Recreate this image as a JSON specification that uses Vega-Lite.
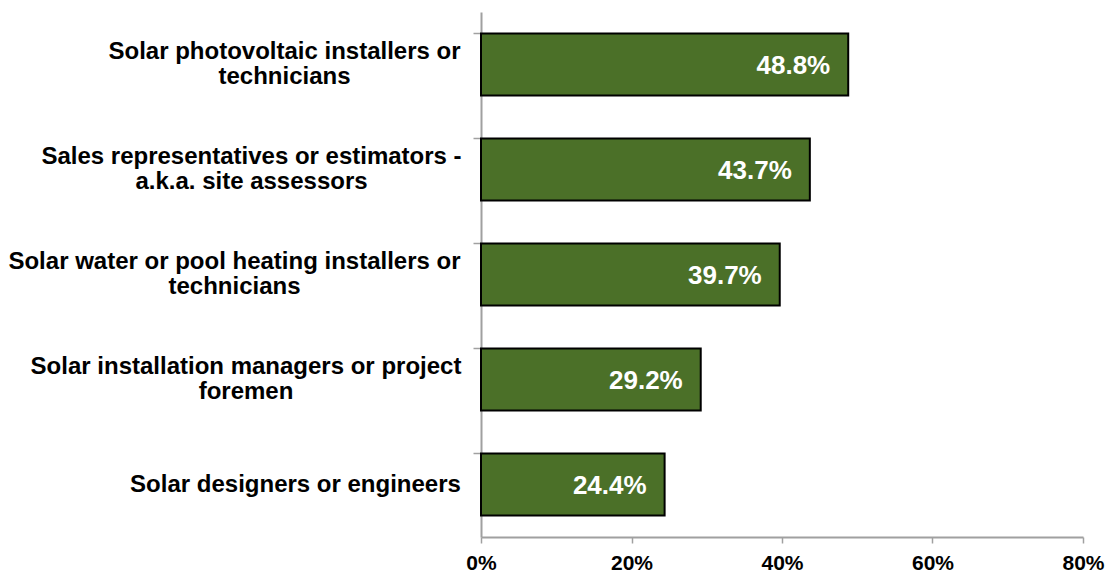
{
  "$schema": "https://vega.github.io/schema/vega-lite/v6.json",
  "width": 602,
  "height": 525,
  "autosize": "none",
  "padding": {"left": 481, "top": 12, "right": 26, "bottom": 36},
  "background": "white",
  "config": {"view": {"stroke": null}},
  "data": {"values": [
    {"job": "Solar photovoltaic installers or|technicians", "share": 0.488},
    {"job": "Sales representatives or estimators -|a.k.a. site assessors", "share": 0.437},
    {"job": "Solar water or pool heating installers or|technicians", "share": 0.397},
    {"job": "Solar installation managers or project|foremen", "share": 0.292},
    {"job": "Solar designers or engineers", "share": 0.244}
  ]},
  "encoding": {
    "y": {"field": "job", "type": "nominal", "sort": null,
      "scale": {"paddingInner": 0.41, "paddingOuter": 0.205},
      "axis": {"title": null, "bandPosition": 0, "labelExpr": "split(datum.label, '|')",
        "labelFont": "Liberation Sans", "labelFontWeight": "bold", "labelFontSize": 24,
        "labelColor": "black", "labelLineHeight": 25, "labelLimit": 480,
        "labelAlign": "center",
        "labelPadding": {"condition": [
          {"test": "indexof(datum.value, 'photovoltaic') >= 0", "value": 189},
          {"test": "indexof(datum.value, 'Sales') >= 0", "value": 222},
          {"test": "indexof(datum.value, 'water') >= 0", "value": 239},
          {"test": "indexof(datum.value, 'managers') >= 0", "value": 227.5}
        ], "value": 178},
        "labelOffset": {"condition": {"test": "indexof(datum.value, '|') >= 0", "value": -12.5}, "value": 0},
        "tickSize": 8, "tickColor": "#a0a0a0", "tickWidth": 1.5,
        "domainColor": "#a0a0a0", "domainWidth": 2}},
    "x": {"field": "share", "type": "quantitative",
      "scale": {"domain": [0, 0.8], "nice": false},
      "axis": {"title": null, "values": [0, 0.2, 0.4, 0.6, 0.8], "format": ".0%",
        "grid": false, "labelFont": "Liberation Sans", "labelFontWeight": "bold", "labelFontSize": 21,
        "labelColor": "black", "labelPadding": 9, "tickSize": 6, "tickColor": "#a0a0a0", "tickWidth": 1.5,
        "domainColor": "#a0a0a0", "domainWidth": 2, "labelFlush": false}}
  },
  "layer": [
    {"mark": {"type": "bar", "fill": "#4B7028", "stroke": "black", "strokeWidth": 2}},
    {"mark": {"type": "text", "align": "right", "baseline": "middle", "dx": -18, "dy": 1,
      "font": "Liberation Sans", "fontWeight": "bold", "fontSize": 26, "fill": "white"},
     "encoding": {"text": {"field": "share", "type": "quantitative", "format": ".1%"}}}
  ]
}
